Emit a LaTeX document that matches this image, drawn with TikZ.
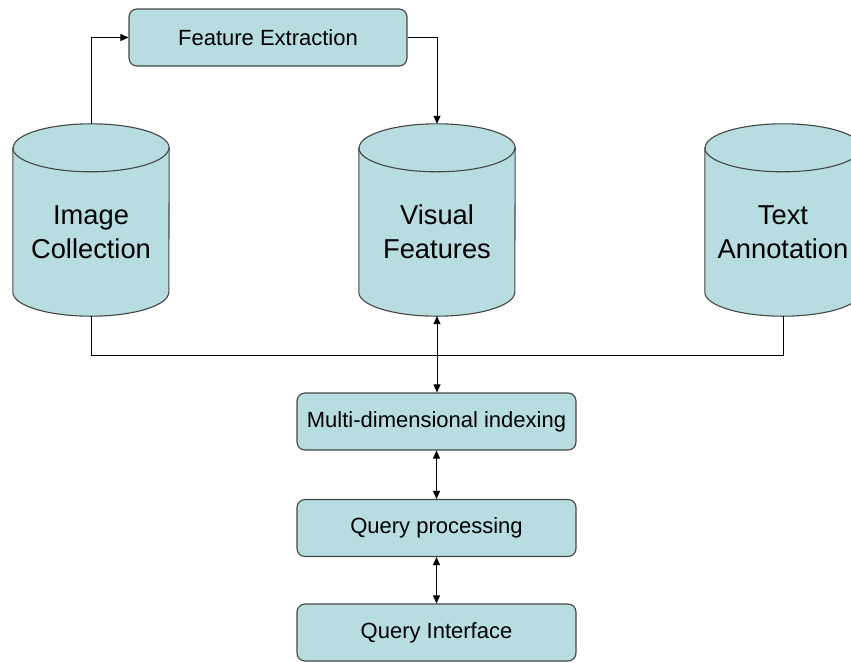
\documentclass[tikz,border=0pt]{standalone}
\usepackage{fontspec}
\setmainfont{Liberation Sans}
\usetikzlibrary{arrows.meta}
\definecolor{boxfill}{HTML}{B7DDE0}
\definecolor{boxline}{HTML}{454545}
\tikzset{
  procbox/.style={draw=boxline, fill=boxfill, line width=1.1pt, rounded corners=8pt,
    minimum width=278pt, minimum height=57pt, inner sep=0pt,
    font=\fontsize{22}{26}\selectfont},
  cylnode/.style={minimum width=156pt, minimum height=192pt, inner sep=0pt, draw=none},
  cylbody/.style={draw=boxline, fill=boxfill, line width=1.1pt},
  cyltext/.style={anchor=base, inner sep=0pt, font=\fontsize{27.3}{33}\selectfont},
  conn/.style={draw=black, line width=1pt},
  arr/.style={conn, -{Triangle[length=8pt,width=7pt]}},
  darr/.style={conn, {Triangle[length=8pt,width=7pt]}-{Triangle[length=8pt,width=7pt]}}
}
\begin{document}
\begin{tikzpicture}[x=1pt,y=1pt]
\useasboundingbox (0,0) rectangle (851,-662);
\clip (0,0) rectangle (851,-662);

% cylinders
\node[cylnode] (img) at (91,-220) {};
\node[cylnode] (vf) at (437,-220) {};
\node[cylnode] (ta) at (783,-220) {};
\foreach \c in {img,vf,ta}{
  \filldraw[cylbody] ([yshift=-24pt]\c.north west) -- ([yshift=24pt]\c.south west)
    arc[start angle=180,end angle=360,x radius=78,y radius=24]
    -- ([yshift=-24pt]\c.north east)
    arc[start angle=0,end angle=180,x radius=78,y radius=24] -- cycle;
  \draw[cylbody, fill=none] ([yshift=-24pt]\c.north west)
    arc[start angle=180,end angle=360,x radius=78,y radius=24];
}
\node[cyltext] (imgA) at ([yshift=-101pt]img.north) {Image};
\node[cyltext] (imgB) at ([yshift=-135pt]img.north) {Collection};
\node[cyltext] (vfA) at ([yshift=-101pt]vf.north) {Visual};
\node[cyltext] (vfB) at ([yshift=-135pt]vf.north) {Features};
\node[cyltext] (taA) at ([yshift=-101pt]ta.north) {Text};
\node[cyltext] (taB) at ([yshift=-135pt]ta.north) {Annotation};

% process boxes
\node[procbox] (fe) at (268,-37.5) {Feature Extraction};
\node[procbox, minimum width=279pt] (mdi) at (436.5,-421.5) {Multi-dimensional indexing};
\node[procbox, minimum width=279pt] (qp) at (436.5,-528) {Query processing};
\node[procbox, minimum width=279pt] (qi) at (436.5,-632.5) {Query Interface};

% connectors
\draw[arr] (img.north) |- (fe.west);
\draw[arr] (fe.east) -| (vf.north);
\draw[conn] (img.south) -- ++(0,-39) -| (ta.south);
\draw[darr] (vf.south) -- (vf.south |- mdi.north);
\draw[darr] (mdi.south) -- (mdi.south |- qp.north);
\draw[darr] (qp.south) -- (qp.south |- qi.north);
\end{tikzpicture}
\end{document}
